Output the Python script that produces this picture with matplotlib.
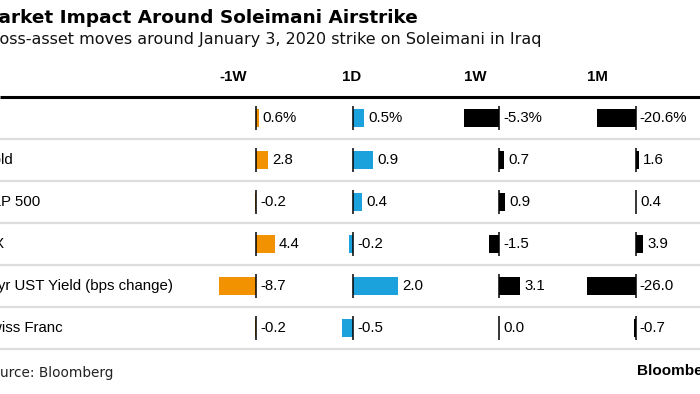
import numpy as np
import matplotlib
matplotlib.use("Agg")
import matplotlib.pyplot as plt

# data
assets = ["Oil", "Gold", "S&P 500", "VIX", "10yr UST Yield (bps change)", "Swiss Franc"]
periods = ["-1W", "1D", "1W", "1M"]
move_1w_before = [0.6, 2.8, -0.2, 4.4, -8.7, -0.2]
move_1d = [0.5, 0.9, 0.4, -0.2, 2.0, -0.5]
move_1w = [-5.3, 0.7, 0.9, -1.5, 3.1, 0.0]
move_1m = [-20.6, 1.6, 0.4, 3.9, -26.0, -0.7]
columns = [move_1w_before, move_1d, move_1w, move_1m]
bar_colors = ["#f39200", "#1ba1dc", "#000000", "#000000"]

W, H = 700, 394
fig = plt.figure(figsize=(W / 100, H / 100), dpi=100)

# background axes in pixel coordinates for text and rules
base = fig.add_axes([0, 0, 1, 1])
base.set_xlim(0, W)
base.set_ylim(H, 0)
base.axis("off")

label_font = "Liberation Sans"

base.text(418, 23, "Market Impact Around Soleimani Airstrike", ha="right", va="baseline",
          fontsize=13.3, fontweight="bold", family="DejaVu Sans")
base.text(542, 44, "Cross-asset moves around January 3, 2020 strike on Soleimani in Iraq",
          ha="right", va="baseline", fontsize=11.5, family="DejaVu Sans", color="#111111")

top, row_h = 97, 42
n = len(assets)
col_left = [219, 342, 464, 587]
bar_w = 56

# header
for left, p in zip(col_left, periods):
    base.text(left, 81, p, ha="left", va="baseline", fontsize=10.8,
              fontweight="bold", family=label_font)
base.plot([0, W], [top, top], color="black", lw=2.2, solid_capstyle="butt")
for i in range(1, n + 1):
    y = top + i * row_h
    base.plot([0, W], [y, y], color="#dcdcdc", lw=1.6, solid_capstyle="butt")

for i, name in enumerate(assets):
    base.text(-19, top + (i + 0.5) * row_h, name, ha="left", va="center",
              fontsize=10.8, family=label_font)

# one small axes per column, each scaled to its own data range
for left, vals, color in zip(col_left, columns, bar_colors):
    vals = np.array(vals)
    ax = fig.add_axes([left / W, 1 - (top + n * row_h) / H, bar_w / W, n * row_h / H])
    ax.set_xlim(min(vals.min(), 0), max(vals.max(), 0))
    ax.set_ylim(n, 0)
    ax.axis("off")
    ys = np.arange(n) + 0.5
    ax.barh(ys, vals, height=0.45, color=color, clip_on=False)
    ax.vlines(np.zeros(n), ys - 0.28, ys + 0.28, color="black", lw=1.1, clip_on=False)
    for y, v, a in zip(ys, vals, assets):
        suffix = "%" if a == "Oil" else ""
        ax.annotate(f"{v:.1f}{suffix}", xy=(max(v, 0), y), xytext=(4, 0),
                    textcoords="offset pixels", ha="left", va="center",
                    fontsize=10.8, family=label_font, annotation_clip=False)

base.text(-17, 377, "Source: Bloomberg", ha="left", va="baseline", fontsize=9.8,
          family="DejaVu Sans", color="#222222")
base.text(637, 375, "Bloomberg", ha="left", va="baseline", fontsize=11,
          fontweight="bold", family=label_font)

fig.savefig("out.png", dpi=100)
